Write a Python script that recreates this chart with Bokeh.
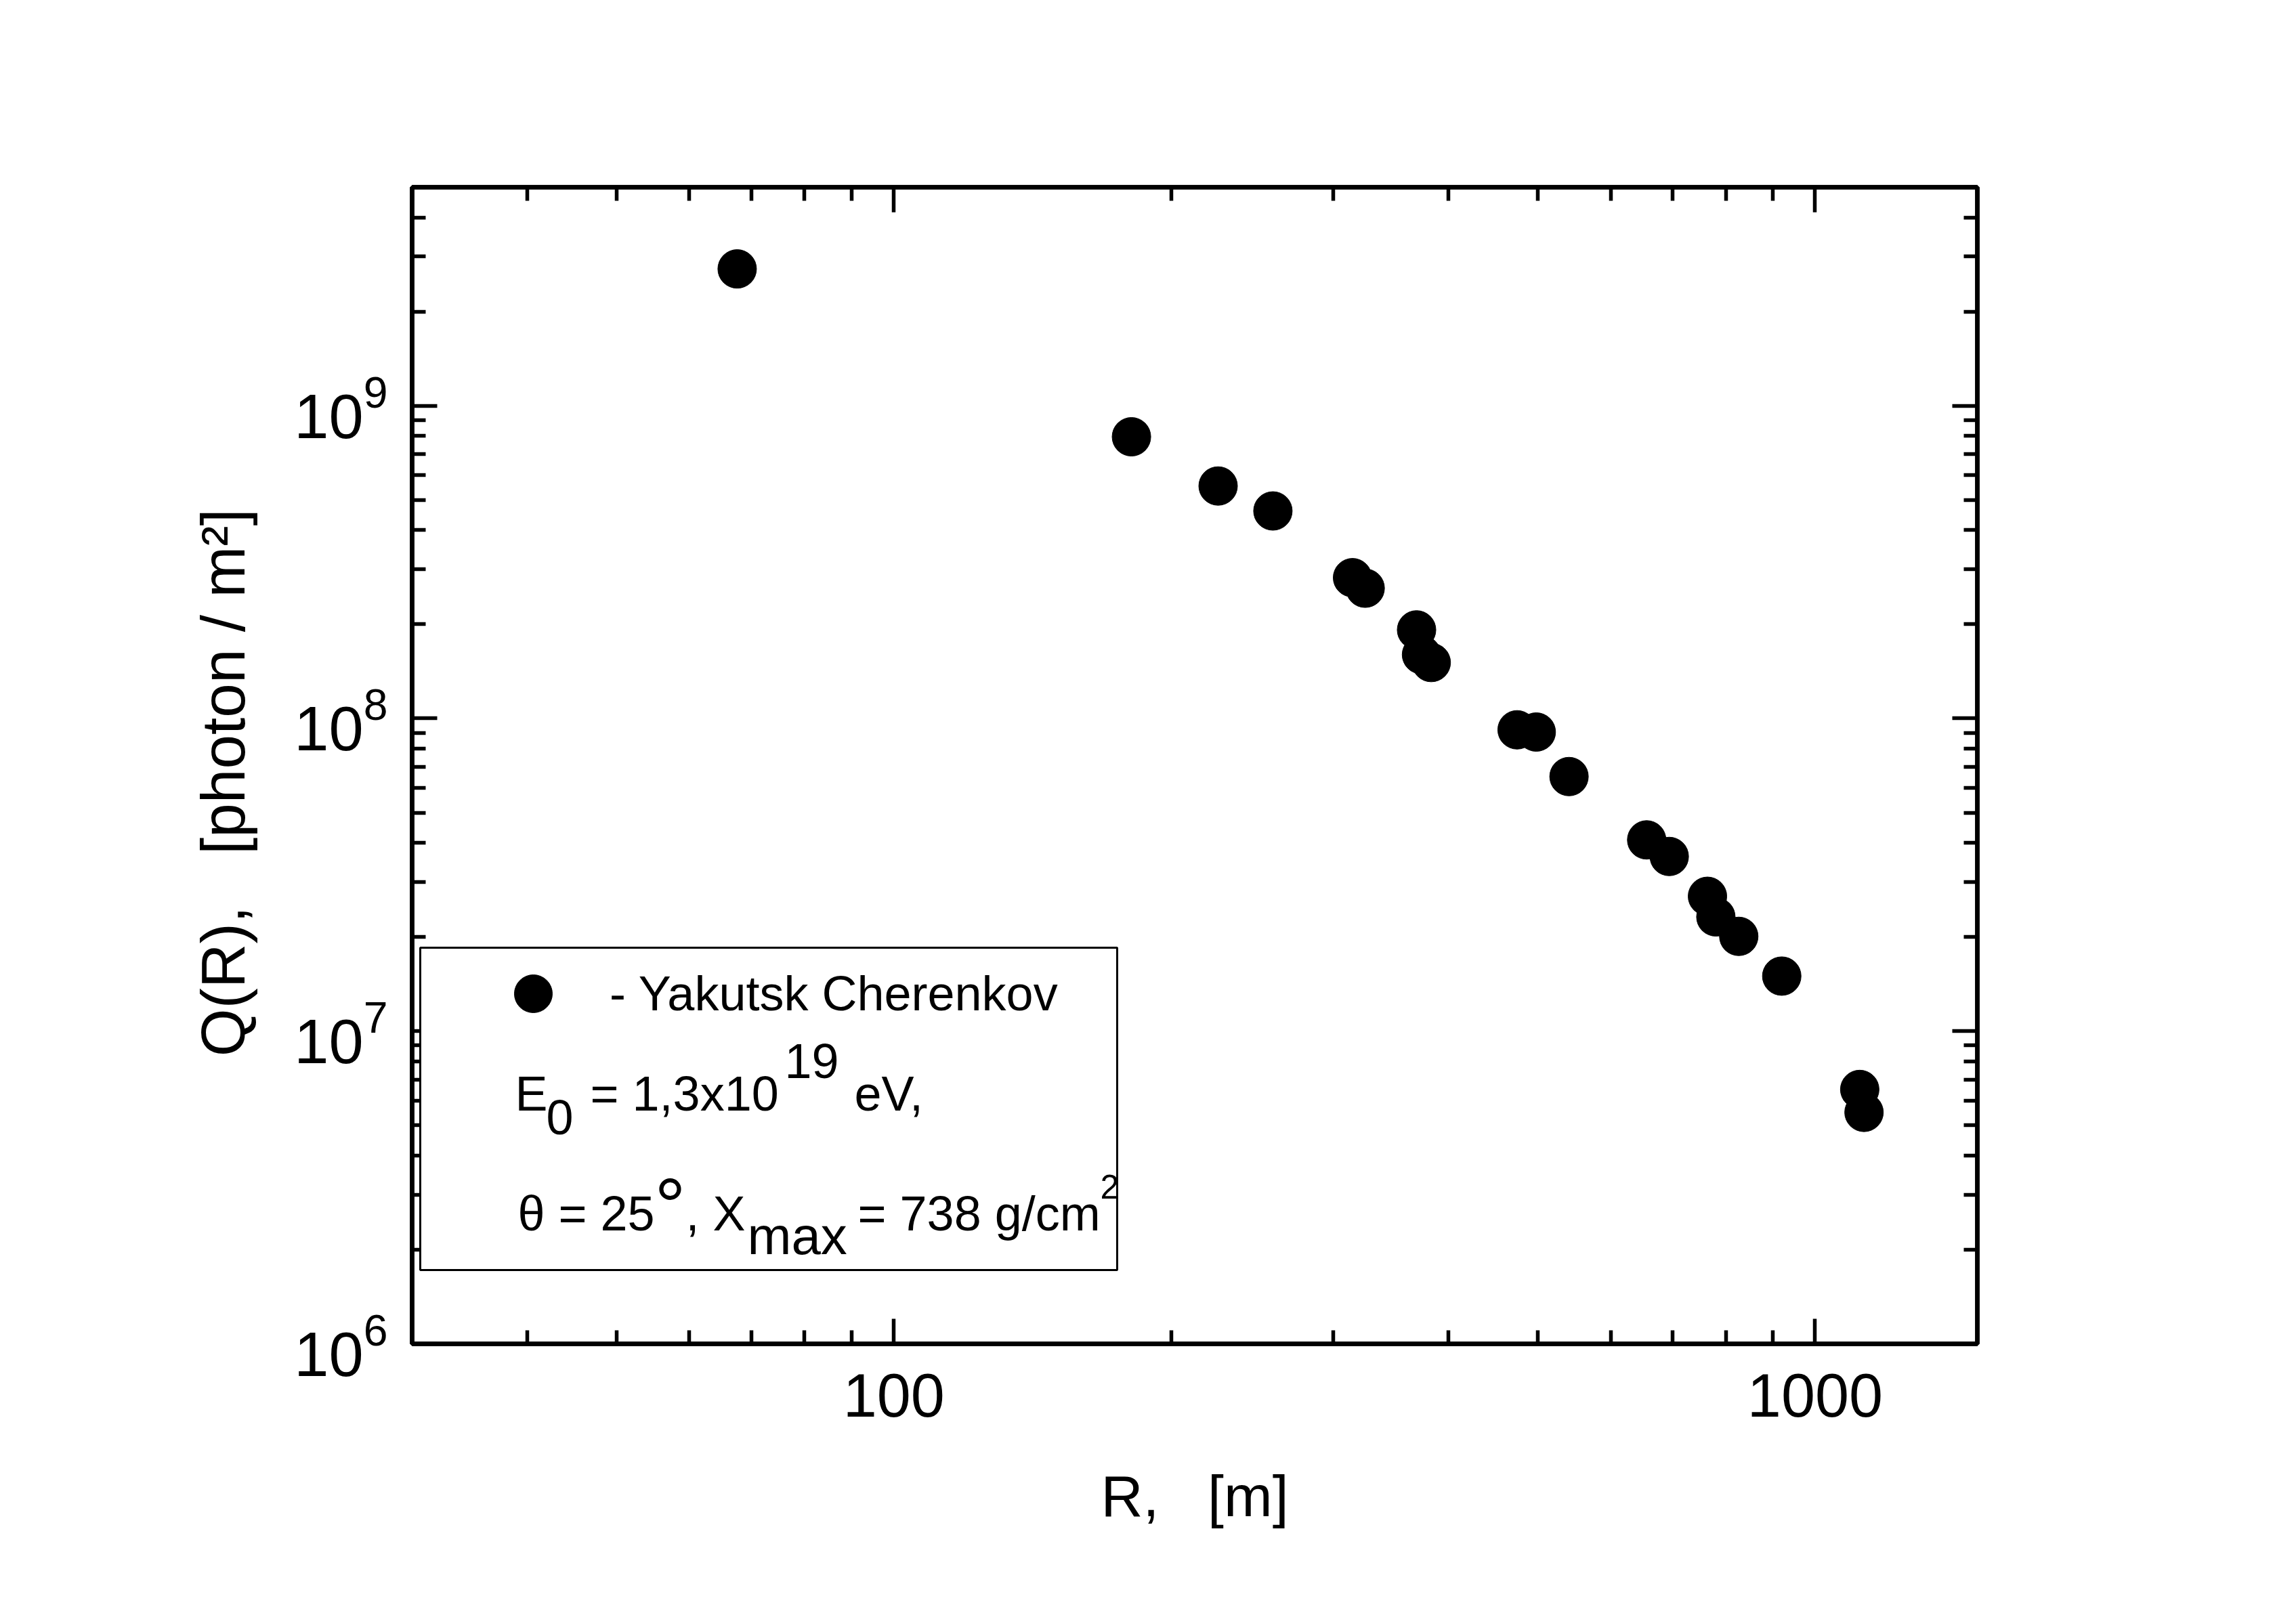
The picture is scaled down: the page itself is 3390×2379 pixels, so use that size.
from bokeh.plotting import figure
from bokeh.models import (Range1d, FixedTicker, BasicTickFormatter, LogAxis, CustomJSTickFormatter,
                          LogTickFormatter, Legend, LegendItem, Label, BoxAnnotation, ColumnDataSource)
from bokeh.embed import file_html
from bokeh.resources import INLINE

# ---- data ----
R = [67.6, 181.1, 224.9, 257.9, 314.7, 324.8, 369.3, 373.9, 383.1, 474.8,
     498.1, 540.6, 656.4, 694.5, 764.1, 780.3, 826.3, 920.0, 1118.0, 1130.0]
Q = [2.74e9, 7.96e8, 5.54e8, 4.61e8, 2.82e8, 2.61e8, 1.92e8, 1.60e8, 1.51e8, 9.20e7,
     9.05e7, 6.52e7, 4.09e7, 3.62e7, 2.70e7, 2.32e7, 2.01e7, 1.50e7, 6.51e6, 5.50e6]
series_name = "- Yakutsk Cherenkov"

x_major = [100, 1000]
x_minor = [m * 10 for m in range(3, 10)] + [m * 100 for m in range(2, 10)]
y_major = [1e6, 1e7, 1e8, 1e9]
y_minor = [m * 10.0 ** e for e in range(6, 10) for m in range(2, 10)]

FONT = "Liberation Sans"

p = figure(width=3370, height=2360, x_axis_type="log", y_axis_type="log",
           x_range=Range1d(30, 1500), y_range=Range1d(1e6, 5e9),
           output_backend="svg", toolbar_location=None,
           min_border_left=608, min_border_top=276, min_border_right=451, min_border_bottom=376,
           background_fill_color="white", border_fill_color="white")
p.grid.visible = False
p.outline_line_color = "black"
p.outline_line_width = 6.5

src = ColumnDataSource(dict(R=R, Q=Q))
r = p.scatter("R", "Q", source=src, size=57, marker="circle", fill_color="black", line_color="black")

xt = FixedTicker(ticks=x_major, minor_ticks=x_minor)
yt = FixedTicker(ticks=y_major, minor_ticks=y_minor)

def style(ax):
    ax.axis_line_width = 6.5
    ax.axis_line_color = "black"
    ax.major_tick_line_width = 5.5
    ax.minor_tick_line_width = 5.5
    ax.major_tick_in = 37
    ax.major_tick_out = 0
    ax.minor_tick_in = 20
    ax.minor_tick_out = 0
    ax.major_label_text_font = FONT
    ax.major_label_text_font_size = "90px"
    ax.major_label_text_color = "black"
    ax.axis_label_text_font = FONT
    ax.axis_label_text_font_size = "86px"
    ax.axis_label_text_font_style = "normal"
    ax.axis_label_text_color = "black"

xa = p.xaxis[0]
xa.ticker = xt
xa.formatter = BasicTickFormatter(use_scientific=False)
xa.axis_label = "R,\u00a0\u00a0\u00a0[m]"
style(xa)
xa.major_label_standoff = 44
xa.axis_label_standoff = 66

ya = p.yaxis[0]
ya.ticker = yt
ya.formatter = LogTickFormatter()
ya.axis_label = "Q(R),\u00a0\u00a0\u00a0[photon / m\u00b2]\u00a0\u00a0"
style(ya)
ya.major_label_text_font_size = "92px"
ya.axis_label_text_font_size = "91px"
ya.major_label_standoff = 36
ya.axis_label_standoff = 51

top = LogAxis(ticker=xt, formatter=CustomJSTickFormatter(code="return ''"))
right = LogAxis(ticker=yt, formatter=CustomJSTickFormatter(code="return ''"))
for ax in (top, right):
    style(ax)
    ax.major_label_standoff = 0
p.add_layout(top, "above")
p.add_layout(right, "right")

# ---- legend box ----
box = BoxAnnotation(left=12, right=1041, top=585, bottom=109,
                    left_units="screen", right_units="screen", top_units="screen", bottom_units="screen",
                    fill_color="white", fill_alpha=1.0, line_color="black", line_width=3, line_alpha=1.0)
p.add_layout(box)

legend = Legend(items=[LegendItem(label=series_name, renderers=[r])],
                location=(109, 447), orientation="vertical",
                glyph_width=140, glyph_height=140, label_standoff=43,
                padding=0, margin=0, spacing=0,
                border_line_alpha=0, background_fill_alpha=0,
                label_text_font=FONT, label_text_font_size="72px", label_text_color="black")
p.add_layout(legend)

def lab(x, y, text, size=72):
    p.add_layout(Label(x=x, y=y + 0.35 * size, x_units="screen", y_units="screen", text=text,
                       text_font=FONT, text_font_size=f"{size}px", text_color="black",
                       text_align="left", text_baseline="alphabetic"))

# E0 = 1,3x10^19 eV,
lab(152, 344, "E")
lab(198, 309, "0")
lab(243, 344, "\u00a0=\u00a01,3x10")
lab(550, 392, "19")
lab(633, 344, "\u00a0eV,")
# theta = 25 deg, Xmax = 738 g/cm^2
lab(156, 167, "\u03b8")
lab(196, 167, "\u00a0=\u00a025")
lab(358, 164, "\u00b0", 115)
lab(404, 167, ",\u00a0X")
lab(495, 132, "max", 78)
lab(638, 167, "\u00a0=\u00a0738\u00a0g/cm")
lab(1016, 215, "2", 50)

open("out.html", "w").write(file_html(p, INLINE))
